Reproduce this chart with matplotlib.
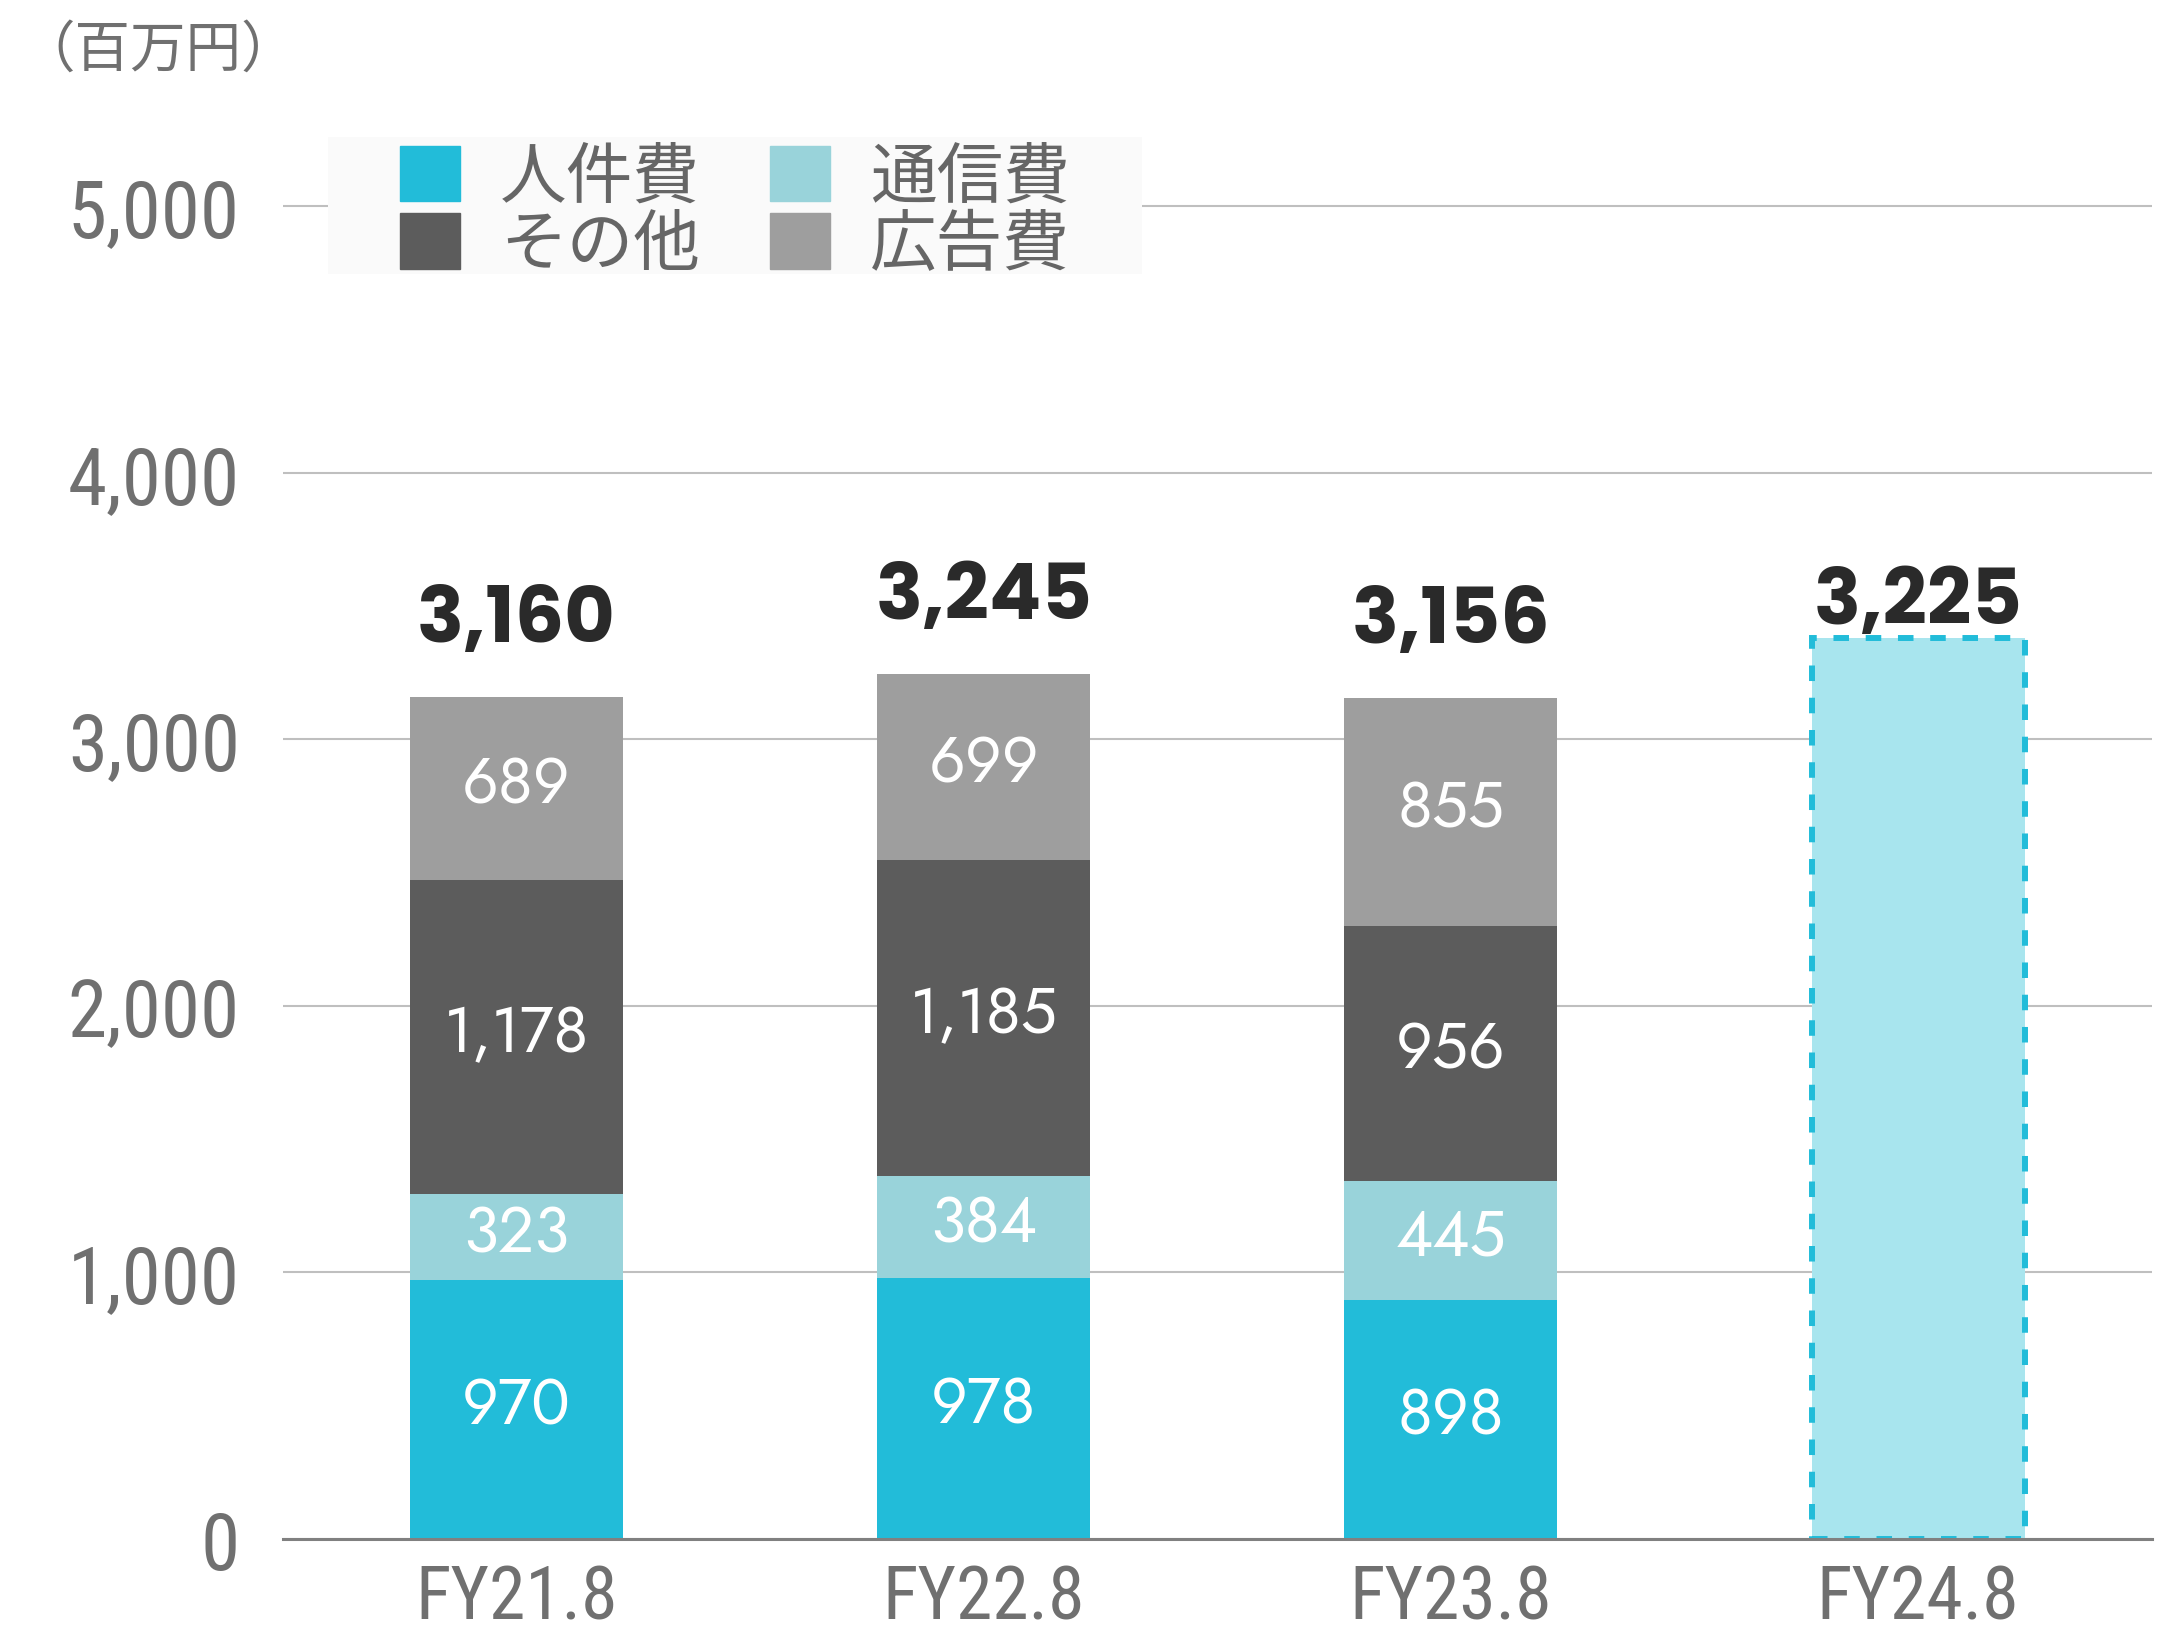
import matplotlib
matplotlib.use("Agg")
import matplotlib.pyplot as plt
import matplotlib.patches as patches
import numpy as np

plt.rcParams['font.family'] = ['Noto Sans CJK JP', 'DejaVu Sans']

years = ["FY21.8", "FY22.8", "FY23.8", "FY24.8"]
series_names = ["人件費", "通信費", "その他", "広告費"]
jinkenhi = [970, 978, 898]
tsushinhi = [323, 384, 445]
sonota = [1178, 1185, 956]
kokokuhi = [689, 699, 855]
totals = [3160, 3245, 3156, 3225]
fy24_bar = 3380  # forecast bar as drawn
colors = ["#22BCD9", "#99D3DA", "#5C5C5C", "#9E9E9E"]

GRAY = "#707070"
NUM_FONT = ['Jost', 'Lato', 'DejaVu Sans']
TOTAL_FONT = ['Poppins', 'Montserrat', 'DejaVu Sans']
TICK_FONT = ['Roboto Condensed', 'Archivo Narrow', 'DejaVu Sans']

fig = plt.figure(figsize=(21.68, 16.31), dpi=100)
ax = fig.add_axes([0.1305, 0.0558, 0.862, 0.866])

x = np.arange(len(years))
width = 0.456
stack = [jinkenhi, tsushinhi, sonota, kokokuhi]
bottom = np.zeros(3)
for vals, c in zip(stack, colors):
    vals = np.array(vals)
    ax.bar(x[:3], vals, width, bottom=bottom, color=c, zorder=3)
    for xi, b, v in zip(x[:3], bottom, vals):
        ax.text(xi, b + v / 2 + 15, f"{v:,}", ha='center', va='center',
                color='white', fontsize=46, family=NUM_FONT, zorder=4)
    bottom = bottom + vals

ax.bar(x[3], fy24_bar, width, color="#A8E5EE", edgecolor="#22BCD9",
       linewidth=4.3, linestyle=(0, (2.6, 2.8)), zorder=3)

for xi, t in zip(x, totals):
    ax.text(xi, t + 280, f"{t:,}", ha='center', va='center', color='#2A2A2A',
            fontsize=56, fontweight='bold', family=TOTAL_FONT, zorder=5)

ax.set_xlim(-0.5, 3.5)
ax.set_ylim(0, 5300)
ax.set_yticks(range(0, 5001, 1000))
ax.set_yticklabels([f"{v:,}" for v in range(0, 5001, 1000)])
ax.set_xticks(x)
ax.set_xticklabels(years)
for lab in ax.get_yticklabels():
    lab.set_fontsize(57)
for lab in ax.get_xticklabels():
    lab.set_fontsize(53)
for lab in ax.get_yticklabels() + ax.get_xticklabels():
    lab.set_family(TICK_FONT)
    lab.set_color(GRAY)
ax.tick_params(axis='y', length=0, pad=31)
ax.tick_params(axis='x', length=0, pad=17)
ax.grid(axis='y', color='#BFBFBF', linewidth=1.5, zorder=0)
for s in ['top', 'right', 'left']:
    ax.spines[s].set_visible(False)
ax.spines['bottom'].set_color('#808080')
ax.spines['bottom'].set_linewidth(2.2)
ax.spines['bottom'].set_zorder(4)

# legend background
bg = patches.Rectangle((328 / 2168, 1 - 275 / 1631), (1142 - 328) / 2168, (275 - 138) / 1631,
                       transform=fig.transFigure, facecolor='#FAFAFA', edgecolor='none', zorder=1)
fig.add_artist(bg)
order = [0, 2, 1, 3]
handles = [patches.Patch(color=colors[i]) for i in order]
labels = [series_names[i] for i in order]
leg = fig.legend(handles, labels, ncol=2, loc='upper left',
                 bbox_to_anchor=(400 / 2168, 1 - 145 / 1631), frameon=False,
                 fontsize=48, handlelength=0.9, handleheight=0.9,
                 handletextpad=0.6, columnspacing=1.05, labelspacing=0.0,
                 borderpad=0, borderaxespad=0)
leg.set_zorder(6)
for t in leg.get_texts():
    t.set_color('#666666')

fig.text(19 / 2168, 1 - 51 / 1631, "（百万円）", ha='left', va='center', fontsize=40, color=GRAY)

fig.savefig("out.png", dpi=100)
